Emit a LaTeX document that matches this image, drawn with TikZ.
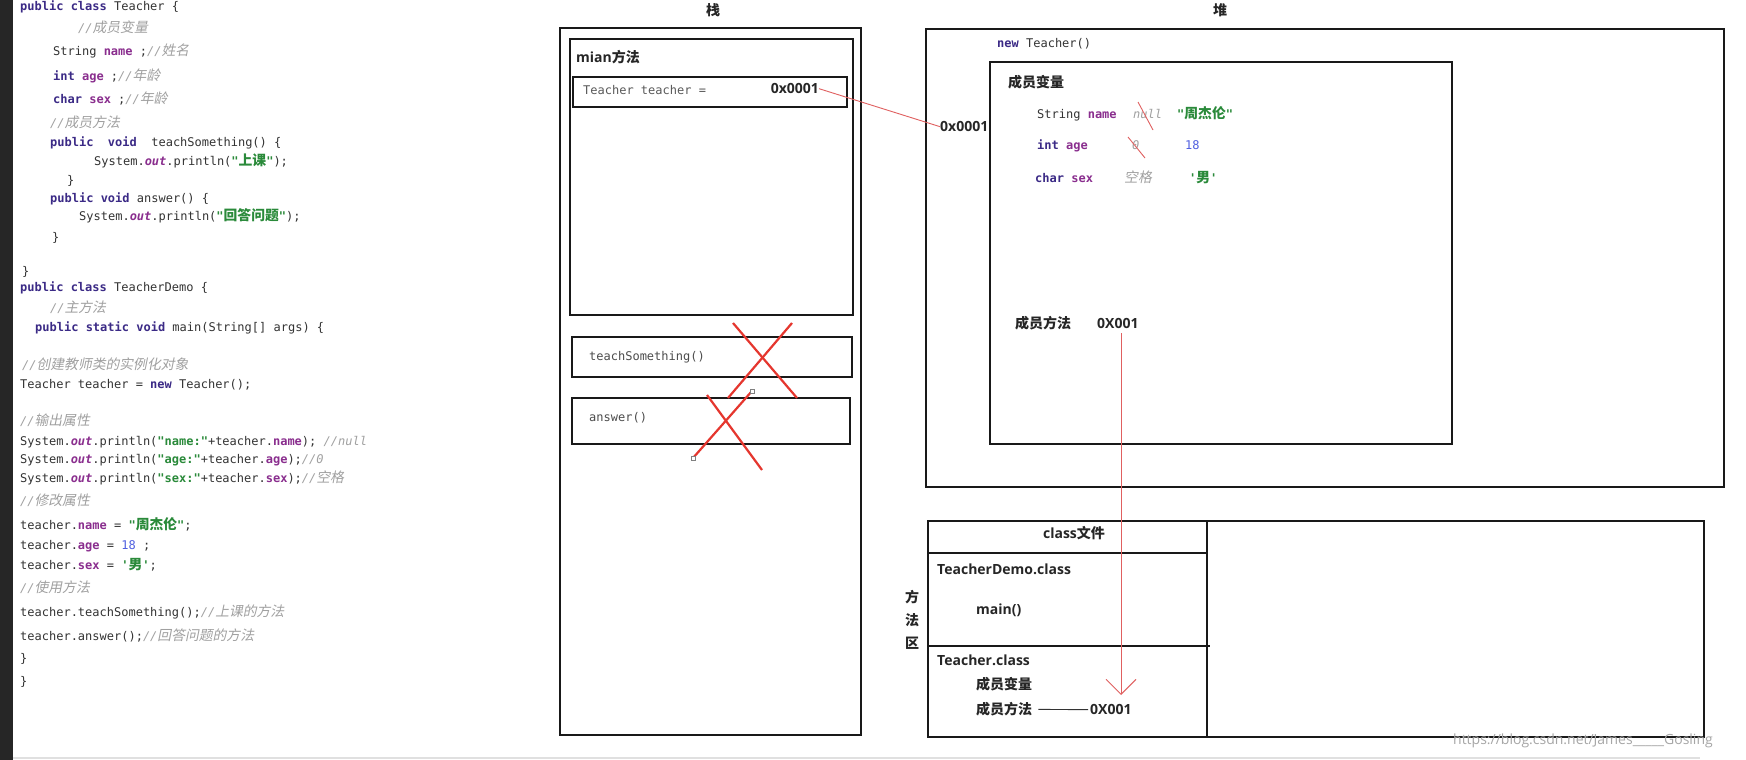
\documentclass[tikz,border=0pt]{standalone}
\usepackage{fontspec}
\usepackage{tikz}
\usetikzlibrary{arrows.meta,positioning}
\setmainfont{Open Sans}
\setmonofont{DejaVu Sans Mono}
\newfontfamily\cjk{Noto Sans CJK SC}
\newfontfamily\cjkc[Scale=1.15]{Noto Sans CJK SC}
\newfontfamily\cjki[Scale=1.15, FakeSlant=0.2]{Noto Sans CJK SC}
\definecolor{ink}  {HTML}{333333}
\definecolor{kwd}  {HTML}{3B2A86}
\definecolor{fld}  {HTML}{8A2E8E}
\definecolor{strg} {HTML}{2A8A3A}
\definecolor{cmt}  {HTML}{A0A0A0}
\definecolor{num}  {HTML}{4F5FE0}
\definecolor{mark} {HTML}{E5362E}
\definecolor{link} {HTML}{E06060}
\newcommand{\codesz}{\fontsize{12}{14}\selectfont\ttfamily}
\newcommand{\lblsz} {\fontsize{14}{17}\selectfont\bfseries}
\newcommand{\zh}[1]  {{\cjkc #1}}
\newcommand{\zi}[1]  {{\cjki #1}}
\newcommand{\jkw}[1] {{\bfseries\color{kwd}#1}}
\newcommand{\jfld}[1]{{\bfseries\color{fld}#1}}
\newcommand{\jout}[1]{{\bfseries\itshape\color{fld}#1}}
\newcommand{\jstr}[1]{{\bfseries\color{strg}#1}}
\newcommand{\jcmt}[1]{{\itshape\color{cmt}#1}}
\newcommand{\znum}[1]{{\color{num}#1}}

\begin{document}
\begin{tikzpicture}[x=1pt, y=-1pt,
  code/.style={anchor=mid west, inner sep=0pt, text=ink, font=\codesz},
  lbl/.style={anchor=mid west, inner sep=0pt, text=black!85, font=\lblsz},
  box/.style={draw=black!90, line width=2.4pt},
  cross/.style={draw=mark, line width=2.2pt},
  handle/.style={draw=black!50, fill=white, line width=0.6pt}]
  \useasboundingbox (0,0) rectangle (1746,760);
  \fill[white] (0,0) rectangle (1746,760);
  \fill[black!85] (0,0) rectangle (13,760);
  \draw[black!12, line width=1.5pt] (13,758) -- (1700,758);

  % source code
  \node[code] (l1)  at (20,8)   {\jkw{public} \jkw{class} Teacher \{};
  \node[code] (l2)  at (78,30)  {\jcmt{//\zi{成员变量}}};
  \node[code] (l3)  at (53,53)  {String \jfld{name} ;\jcmt{//\zi{姓名}}};
  \node[code] (l4)  at (53,78)  {\jkw{int} \jfld{age} ;\jcmt{//\zi{年龄}}};
  \node[code] (l5)  at (53,101) {\jkw{char} \jfld{sex} ;\jcmt{//\zi{年龄}}};
  \node[code] (l6)  at (50,125) {\jcmt{//\zi{成员方法}}};
  \node[code] (l7)  at (50,144) {\jkw{public}~~\jkw{void}~~teachSomething() \{};
  \node[code] (l8)  at (94,163) {System.\jout{out}.println(\jstr{"\zh{上课}"});};
  \node[code] (l9)  at (67,182) {\}};
  \node[code] (l10) at (50,200) {\jkw{public} \jkw{void} answer() \{};
  \node[code] (l11) at (79,218) {System.\jout{out}.println(\jstr{"\zh{回答问题}"});};
  \node[code] (l12) at (52,239) {\}};
  \node[code] (l13) at (22,273) {\}};
  \node[code] (l14) at (20,289) {\jkw{public} \jkw{class} TeacherDemo \{};
  \node[code] (l15) at (50,310) {\jcmt{//\zi{主方法}}};
  \node[code] (l16) at (35,329) {\jkw{public} \jkw{static} \jkw{void} main(String[] args) \{};
  \node[code] (l17) at (22,367) {\jcmt{//\zi{创建教师类的实例化对象}}};
  \node[code] (l18) at (20,386) {Teacher teacher = \jkw{new} Teacher();};
  \node[code] (l19) at (20,423) {\jcmt{//\zi{输出属性}}};
  \node[code] (l20) at (20,443) {System.\jout{out}.println(\jstr{"name:"}+teacher.\jfld{name}); \jcmt{//null}};
  \node[code] (l21) at (20,461) {System.\jout{out}.println(\jstr{"age:"}+teacher.\jfld{age});\jcmt{//0}};
  \node[code] (l22) at (20,480) {System.\jout{out}.println(\jstr{"sex:"}+teacher.\jfld{sex});\jcmt{//\zi{空格}}};
  \node[code] (l23) at (20,503) {\jcmt{//\zi{修改属性}}};
  \node[code] (l24) at (20,527) {teacher.\jfld{name} = \jstr{"\zh{周杰伦}"};};
  \node[code] (l25) at (20,547) {teacher.\jfld{age} = \znum{18} ;};
  \node[code] (l26) at (20,567) {teacher.\jfld{sex} = \jstr{'\zh{男}'};};
  \node[code] (l27) at (20,590) {\jcmt{//\zi{使用方法}}};
  \node[code] (l28) at (20,614) {teacher.teachSomething();\jcmt{//\zi{上课的方法}}};
  \node[code] (l29) at (20,638) {teacher.answer();\jcmt{//\zi{回答问题的方法}}};
  \node[code] (l30) at (20,660) {\}};
  \node[code] (l31) at (20,683) {\}};

  % stack
  \node[lbl, anchor=center] (stk) at (713,10) {\cjk 栈};
  \draw[box] (560,28) rectangle (861,735);
  \draw[box] (570,39) rectangle (853,315);
  \node[lbl] (mainm) at (576,60) {mian{\cjk 方法}};
  \draw[box] (573,77) rectangle (847,107);
  \node[code, text=black!65] (tvar) at (583,92) {Teacher teacher =};
  \node[lbl, anchor=mid east] (saddr) at (819,91) {0x0001};
  \draw[box] (572,337) rectangle (852,377);
  \node[code, text=black!70] (tsm) at (589,358) {teachSomething()};
  \draw[box] (572,398) rectangle (850,444);
  \node[code, text=black!70] (ans) at (589,419) {answer()};
  \draw[cross] (733,323) -- (797,398);
  \draw[cross] (792,323) -- (728,398);
  \draw[cross] (707,395) -- (762,470);
  \draw[cross] (752,391) -- (693,458);
  \draw[handle] (750,389) rectangle (754,393);
  \draw[handle] (691,456) rectangle (695,460);

  % heap
  \node[lbl, anchor=center] (hp) at (1220,10) {\cjk 堆};
  \draw[box] (926,29) rectangle (1724,487);
  \node[code] (newt) at (997,45) {\jkw{new} Teacher()};
  \draw[box] (990,62) rectangle (1452,444);
  \node[lbl] (haddr) at (940,129) {0x0001};
  \node[lbl] (hvars) at (1008,85) {\cjk 成员变量};
  \node[code] (fname) at (1037,116) {String \jfld{name}};
  \node[code, text=cmt, font=\codesz\itshape] (vnull) at (1133,116) {null};
  \node[code] (vname) at (1177,116) {\jstr{"\zh{周杰伦}"}};
  \node[code] (fage) at (1037,147) {\jkw{int} \jfld{age}};
  \node[code, text=cmt, font=\codesz\itshape] (vzero) at (1132,147) {0};
  \node[code] (vage) at (1185,147) {\znum{18}};
  \node[code] (fsex) at (1035,180) {\jkw{char} \jfld{sex}};
  \node[code, text=cmt] (vsp) at (1124,180) {\zi{空格}};
  \node[code] (vsex) at (1189,180) {\jstr{'\zh{男}'}};
  \draw[link, line width=0.9pt] (1138,102) -- (1153,130);
  \draw[link, line width=0.9pt] (1128,137) -- (1145,158);
  \node[lbl] (hmeth) at (1015,326) {\cjk 成员方法};
  \node[lbl] (hmref) at (1097,326) {0X001};

  % method area
  \node[lbl, anchor=center, align=center, font=\fontsize{14}{23}\selectfont\bfseries] (marea)
    at (912,620) {\cjk 方\\\cjk 法\\\cjk 区};
  \draw[box] (928,521) rectangle (1704,737);
  \draw[box] (1207,521) -- (1207,737);
  \draw[box] (928,553) -- (1207,553);
  \draw[box] (928,646) -- (1210,646);
  \node[lbl, anchor=center] (cfile) at (1074,533) {class{\cjk 文件}};
  \node[lbl] (cdemo) at (937,572) {TeacherDemo.class};
  \node[lbl] (cmain) at (976,612) {main()};
  \node[lbl] (ctea) at (937,663) {Teacher.class};
  \node[lbl] (cvars) at (976,687) {\cjk 成员变量};
  \node[lbl] (cmeth) at (976,712) {\cjk 成员方法};
  \node[lbl] (cref) at (1090,712) {0X001};
  \draw[black!80, line width=0.9pt, shorten <=6pt, shorten >=2pt] (cmeth.east) -- (cref.west);

  % references
  \coordinate (tip) at (1121,695);
  \draw[link, line width=0.9pt] (saddr.east) -- (haddr.west);
  \draw[link, line width=0.9pt, -{Straight Barb[length=15pt, width=30pt]}]
    ([yshift=-4pt]hmref.south -| tip) -- (tip);

  \node[anchor=mid east, inner sep=0pt, text=black!35, font=\fontsize{14}{16}\selectfont]
    (wm) at (1713,742) {https://blog.csdn.net/James\_\_\_\_\_Gosling};
\end{tikzpicture}
\end{document}
